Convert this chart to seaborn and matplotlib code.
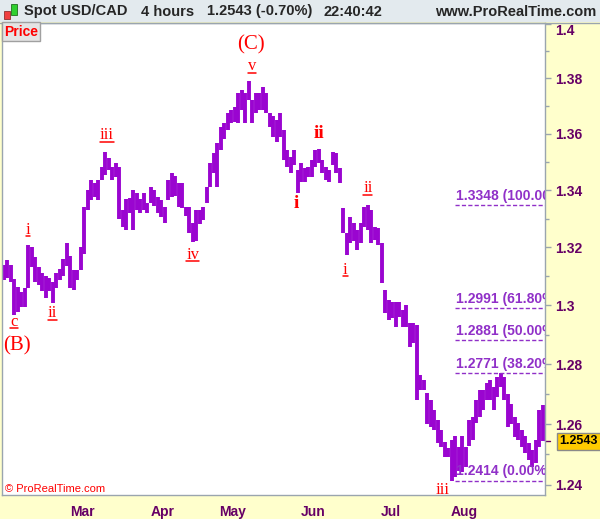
import numpy as np
import pandas as pd
import seaborn as sns
import matplotlib.pyplot as plt
from matplotlib.lines import Line2D
from matplotlib.patches import Rectangle
from matplotlib.ticker import NullFormatter

sns.set_style("white")
plt.rcParams["font.family"] = ["Liberation Sans", "DejaVu Sans"]

# USD/CAD, one bar per trading day, high/low
days = pd.bdate_range("2017-01-27", "2017-08-31")
highs = [
    1.3138, 1.3155, 1.3140, 1.3090, 1.3061, 1.3044, 1.3060, 1.3208, 1.3201, 1.3165,
    1.3130, 1.3110, 1.3100, 1.3095, 1.3080, 1.3110, 1.3125, 1.3160, 1.3215, 1.3170,
    1.3120, 1.3120, 1.3200, 1.3340, 1.3400, 1.3436, 1.3425, 1.3436, 1.3480, 1.3535,
    1.3515, 1.3480, 1.3495, 1.3480, 1.3330, 1.3370, 1.3372, 1.3400, 1.3390, 1.3370,
    1.3390, 1.3355, 1.3410, 1.3400, 1.3375, 1.3365, 1.3340, 1.3436, 1.3460, 1.3450,
    1.3425, 1.3425, 1.3340, 1.3340, 1.3285, 1.3330, 1.3330, 1.3340, 1.3410, 1.3495,
    1.3530, 1.3567, 1.3625, 1.3640, 1.3675, 1.3685, 1.3695, 1.3746, 1.3757, 1.3746,
    1.3790, 1.3720, 1.3746, 1.3746, 1.3770, 1.3746, 1.3675, 1.3665, 1.3650, 1.3675,
    1.3614, 1.3542, 1.3517, 1.3542, 1.3470, 1.3495, 1.3478, 1.3480, 1.3507, 1.3542,
    1.3545, 1.3507, 1.3480, 1.3470, 1.3535, 1.3530, 1.3478, 1.3337, 1.3250, 1.3305,
    1.3285, 1.3260, 1.3285, 1.3340, 1.3348, 1.3330, 1.3270, 1.3267, 1.3215, 1.3052,
    1.3018, 1.3010, 1.3010, 1.3012, 1.2984, 1.3001, 1.2940, 1.2940, 1.2933, 1.2764,
    1.2747, 1.2703, 1.2680, 1.2647, 1.2614, 1.2580, 1.2540, 1.2520, 1.2548, 1.2560,
    1.2525, 1.2560, 1.2525, 1.2614, 1.2624, 1.2680, 1.2714, 1.2714, 1.2737, 1.2747,
    1.2724, 1.2757, 1.2772, 1.2757, 1.2700, 1.2667, 1.2624, 1.2604, 1.2580, 1.2560,
    1.2537, 1.2515, 1.2548, 1.2647, 1.2664,
]
lows = [
    1.3086, 1.3095, 1.3080, 1.2967, 1.2978, 1.2993, 1.2995, 1.3060, 1.3130, 1.3080,
    1.3070, 1.3050, 1.3025, 1.3050, 1.3008, 1.3060, 1.3085, 1.3100, 1.3135, 1.3060,
    1.3052, 1.3086, 1.3120, 1.3175, 1.3330, 1.3365, 1.3376, 1.3365, 1.3436, 1.3453,
    1.3471, 1.3436, 1.3446, 1.3300, 1.3272, 1.3260, 1.3320, 1.3260, 1.3330, 1.3320,
    1.3330, 1.3320, 1.3355, 1.3345, 1.3320, 1.3305, 1.3285, 1.3365, 1.3376, 1.3380,
    1.3342, 1.3338, 1.3310, 1.3250, 1.3218, 1.3220, 1.3280, 1.3295, 1.3355, 1.3410,
    1.3460, 1.3410, 1.3542, 1.3580, 1.3614, 1.3640, 1.3642, 1.3640, 1.3685, 1.3640,
    1.3720, 1.3640, 1.3675, 1.3685, 1.3685, 1.3675, 1.3625, 1.3590, 1.3570, 1.3590,
    1.3507, 1.3480, 1.3460, 1.3490, 1.3390, 1.3430, 1.3430, 1.3446, 1.3446, 1.3480,
    1.3495, 1.3460, 1.3436, 1.3430, 1.3490, 1.3460, 1.3425, 1.3250, 1.3173, 1.3215,
    1.3220, 1.3190, 1.3215, 1.3270, 1.3260, 1.3215, 1.3225, 1.3208, 1.3076, 1.2975,
    1.2950, 1.2956, 1.2926, 1.2960, 1.2927, 1.2927, 1.2858, 1.2872, 1.2680, 1.2714,
    1.2714, 1.2600, 1.2590, 1.2580, 1.2537, 1.2525, 1.2491, 1.2491, 1.2414, 1.2425,
    1.2445, 1.2441, 1.2460, 1.2527, 1.2548, 1.2604, 1.2624, 1.2647, 1.2680, 1.2680,
    1.2647, 1.2690, 1.2724, 1.2680, 1.2590, 1.2600, 1.2558, 1.2548, 1.2525, 1.2505,
    1.2482, 1.2459, 1.2471, 1.2525, 1.2543,
]
last_price = 1.2543
change_pct = -0.70
clock = "22:40:42"

fib_levels = [1.3348, 1.2991, 1.2881, 1.2771, 1.2414]
fib_pcts = [100.0, 61.8, 50.0, 38.2, 0.0]

price_ticks = [1.24, 1.26, 1.28, 1.30, 1.32, 1.34, 1.36, 1.38, 1.40]
minor_ticks = [1.25, 1.27, 1.29, 1.31, 1.33, 1.35, 1.37, 1.39]

# elliott wave counts: text, pivot day, pivot side, style, offset (pt)
waves = [
    ("c", 3, "low", "small", (0, -5)),
    ("(B)", 3, "low", "big", (2, -22)),
    ("i", 7, "high", "small", (0, 11)),
    ("ii", 14, "low", "small", (0, -7.5)),
    ("iii", 29, "high", "small", (1.3, 12)),
    ("iv", 54, "low", "small", (0, -9)),
    ("(C)", 70, "high", "big", (1.5, 26)),
    ("v", 70, "high", "small", (2.3, 10.5)),
    ("i", 84, "low", "bold", (-1, -7.5)),
    ("ii", 90, "high", "bold", (0, 11)),
    ("i", 98, "low", "small", (-1, -10.5)),
    ("ii", 104, "high", "small", (0, 12)),
    ("iii", 128, "low", "plain", (-6.5, -6.5)),
]
wave_style = {
    "small": dict(fontsize=12, fontweight="normal"),
    "plain": dict(fontsize=12, fontweight="normal"),
    "big": dict(fontsize=15, fontweight="normal"),
    "bold": dict(fontsize=14, fontweight="bold"),
}

BAR = "#9A05D0"
FIB = "#9030C8"
AXTXT = "#660066"
EDGE = "#9AA5AE"
W, H = 600, 519


def fx(x):
    return x / W


def fy(y):
    return 1 - y / H


fig = plt.figure(figsize=(W / 100, H / 100), dpi=100, facecolor="#FFFFCC")
ax = fig.add_axes([fx(1.5), fy(495), fx(545) - fx(1.5), fy(23) - fy(495)])
ax.set_facecolor("white")
ax.set_yscale("log")

bars = pd.DataFrame({
    "day": np.repeat(np.arange(len(days)), 2),
    "price": np.column_stack([lows, highs]).ravel(),
})
sns.lineplot(data=bars, x="day", y="price", units="day", estimator=None,
             sort=False, color=BAR, lw=2.8, solid_capstyle="butt",
             ax=ax, legend=False)

ax.set_xlim(-0.6, len(days) - 0.4)
ax.set_ylim(1.2367, 1.4002)
ax.set_xlabel("")
ax.set_ylabel("")

# month ticks on the first trading day of each month
month_first = [np.flatnonzero(days.month == m)[0] for m in range(3, 9)]
ax.set_xticks(np.array(month_first) - 0.5,
              labels=[days[i].strftime("%b") for i in month_first],
              fontweight="bold", color=AXTXT, fontsize=10)
ax.tick_params(axis="x", length=4, width=1, color=EDGE, pad=3, direction="out")

ax.yaxis.tick_right()
ax.set_yticks(price_ticks, labels=[f"{v:g}" for v in price_ticks],
              fontweight="bold", color=AXTXT, fontsize=10)
ax.set_yticks(minor_ticks, minor=True)
ax.yaxis.set_minor_formatter(NullFormatter())
ax.tick_params(axis="y", which="major", length=4, width=1, color=EDGE, pad=3,
               direction="out")
ax.tick_params(axis="y", which="minor", length=3, width=1, color=EDGE,
               direction="out")
for tick in ax.yaxis.get_major_ticks():
    if np.isclose(tick.get_loc(), max(price_ticks)):
        tick.label2.set_va("top")

for s in ax.spines.values():
    s.set_color(EDGE)
    s.set_linewidth(1)

# fibonacci retracement from the low, labels cut at the plot edge
start = int(np.argmin(lows)) + 1
ax.hlines(fib_levels, start, ax.get_xlim()[1], colors=FIB,
          linestyles=(0, (3, 1.6)), lw=1)
for lvl, pct in zip(fib_levels, fib_pcts):
    t = ax.annotate(f"{lvl:.4f} ({pct:.2f}%)", xy=(start, lvl), xytext=(0.5, 1.5),
                    textcoords="offset points", ha="left", va="bottom", color=FIB,
                    fontsize=10, fontweight="bold")
    t.set_clip_on(True)
    t.set_clip_box(ax.bbox)

# wave labels
underlined = []
for txt, d, side, style, off in waves:
    p = highs[d] if side == "high" else lows[d]
    t = ax.annotate(txt, xy=(d, p), xytext=off, textcoords="offset points",
                    ha="center", va="center", color="red",
                    family=["Liberation Serif", "DejaVu Serif"],
                    annotation_clip=False, **wave_style[style])
    if style == "small":
        underlined.append(t)

# last price box
ax.plot([1, 1.01], [last_price, last_price], color=AXTXT, lw=1,
        transform=ax.get_yaxis_transform(), clip_on=False)
ax.annotate(f"{last_price:.4f}", xy=(1, last_price),
            xycoords=("axes fraction", "data"), xytext=(10.5, 0),
            textcoords="offset points", ha="left", va="center", fontsize=9,
            fontweight="bold", color="black", annotation_clip=False,
            bbox=dict(boxstyle="square,pad=0.2", fc="#FFCC00", ec="#8A8A8A", lw=1))

ax.text(0.006, 5.5 / 472, "\u00a9 ProRealTime.com", transform=ax.transAxes,
        color="red", fontsize=8, va="center")

# header bar
fig.add_artist(Rectangle((0, fy(22)), 1, 22 / H, transform=fig.transFigure,
                         fc="#E3EAEE", ec="none", zorder=5))
fig.add_artist(Line2D([0, 1], [fy(22.5)] * 2, transform=fig.transFigure,
                      color=EDGE, lw=1, zorder=6))
fig.add_artist(Rectangle((fx(4), fy(19)), fx(6), 8 / H, transform=fig.transFigure,
                         fc="#F04040", ec="#903030", lw=0.6, zorder=7))
fig.add_artist(Rectangle((fx(11), fy(15)), fx(6), 11 / H, transform=fig.transFigure,
                         fc="#30D030", ec="#207020", lw=0.6, zorder=7))
hdr = dict(fontsize=10.5, fontweight="bold", va="center", zorder=8)
fig.text(fx(24), fy(11.5), "Spot USD/CAD", **hdr)
fig.text(fx(141), fy(11.5), "4 hours", **hdr)
fig.text(fx(207), fy(11.5), f"{last_price:.4f} ({change_pct:.2f}%)", **hdr)
fig.text(fx(323), fy(11.5), clock, **hdr)
fig.text(fx(596), fy(11.5), "www.ProRealTime.com", ha="right", **hdr)
fig.text(fx(4), fy(31.5), "Price", color="red", fontsize=10, fontweight="bold",
         va="center", zorder=8,
         bbox=dict(boxstyle="square,pad=0.15", fc="#E4E4E4", ec="#A0A0A0", lw=1))

# underline the small wave labels
fig.canvas.draw()
r = fig.canvas.get_renderer()
for t in underlined:
    bb = t.get_window_extent(r)
    fig.add_artist(Line2D([bb.x0 / W, bb.x1 / W], [(bb.y0 + 1.5) / H] * 2,
                          transform=fig.transFigure, color="red", lw=1.1))

fig.savefig("out.png", dpi=100, facecolor=fig.get_facecolor())
